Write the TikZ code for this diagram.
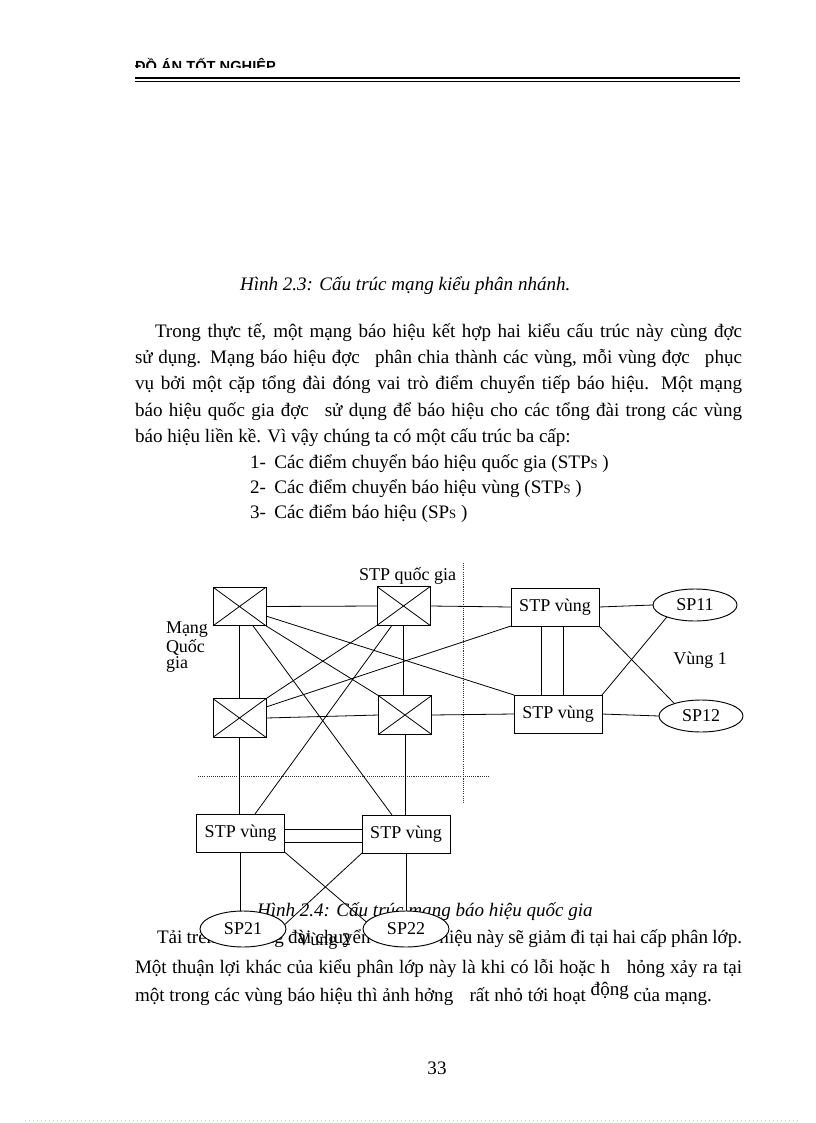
\documentclass[tikz,border=0pt]{standalone}
\usepackage{fontspec}
\setmainfont{Liberation Serif}
\newfontfamily\arialfont{Liberation Sans}
\usetikzlibrary{calc,shapes.geometric}
\newcommand\smallS{{\fontsize{9.5pt}{9.5pt}\selectfont S}}
\begin{document}
\begin{tikzpicture}[x=0.75pt,y=-0.75pt,
  every node/.style={inner sep=0pt,outer sep=0pt},
  body/.style={anchor=base west,font=\fontsize{14.3pt}{16pt}\selectfont},
  capt/.style={anchor=base west,font=\fontsize{14.3pt}{16pt}\selectfont\itshape},
  lab/.style={font=\fontsize{13.5pt}{12.4pt}\selectfont},
  wire/.style={line width=0.6pt},
  dotline/.style={line width=0.7pt,dash pattern=on 0.8pt off 0.8pt,black!80},
  xbox/.style={draw,line width=0.7pt,fill=white,minimum width=39.75pt,minimum height=29pt,
    path picture={\draw[line width=0.6pt] (path picture bounding box.north west)--(path picture bounding box.south east)
      (path picture bounding box.north east)--(path picture bounding box.south west);}},
  rbox/.style={draw,line width=0.7pt,fill=white,minimum width=66pt,minimum height=28.5pt,font=\fontsize{13.5pt}{16pt}\selectfont},
  ell/.style={draw,ellipse,line width=0.7pt,fill=white,minimum width=63pt,minimum height=24pt,font=\fontsize{13.5pt}{16pt}\selectfont},
  ellb/.style={ell,minimum width=64.5pt,minimum height=27pt}
]
\useasboundingbox (0,0) rectangle (816,1123);

% header
\begin{scope}
\clip (100,40) rectangle (800,67.5);
\node[anchor=base west,font=\arialfont\bfseries\fontsize{11pt}{13pt}\selectfont] (hdr) at (135,71.5) {ĐỒ ÁN TỐT NGHIỆP};
\end{scope}
\draw[line width=2pt] (135,78) -- (740,78);
\draw[line width=0.75pt] (135,81.5) -- (740,81.5);

% caption 2.3
\node[capt] (cap3) at (240,290) {Hình 2.3: Cấu trúc mạng kiểu phân nhánh.};

% paragraph
\node[body] (p1) at (155,337) {\makebox[440.25pt][s]{Trong thực tế, một mạng báo hiệu kết hợp hai kiểu cấu trúc này cùng đợc}};
\node[body] (p2) at (135,363) {\makebox[455.25pt][s]{sử dụng. Mạng báo hiệu đợc\hspace{0.5em} phân chia thành các vùng, mỗi vùng đợc\hspace{0.5em} phục}};
\node[body] (p3) at (135,389) {\makebox[455.25pt][s]{vụ bởi một cặp tổng đài đóng vai trò điểm chuyển tiếp báo hiệu. Một mạng}};
\node[body] (p4) at (135,416) {\makebox[455.25pt][s]{báo hiệu quốc gia đợc\hspace{0.5em} sử dụng để báo hiệu cho các tổng đài trong các vùng}};
\node[body] (p5) at (135,442) {báo hiệu liền kề. Vì vậy chúng ta có một cấu trúc ba cấp:};
\node[body] (l1) at (250,468) {1-\hspace{0.45em}Các điểm chuyển báo hiệu quốc gia (STP\smallS\ )};
\node[body] (l2) at (250,493) {2-\hspace{0.45em}Các điểm chuyển báo hiệu vùng (STP\smallS\ )};
\node[body] (l3) at (250,518) {3-\hspace{0.45em}Các điểm báo hiệu (SP\smallS\ )};

% caption 2.4 and bottom paragraph
\node[capt] (cap4) at (257,916) {Hình 2.4: Cấu trúc mạng báo hiệu quốc gia};
\node[body] (q1) at (157,943) {\makebox[438.75pt][s]{Tải trên các tổng đài chuyển tiếp báo hiệu này sẽ giảm đi tại hai cấp phân lớp.}};
\node[body] (q2) at (135,973) {\makebox[455.25pt][s]{Một thuận lợi khác của kiểu phân lớp này là khi có lỗi hoặc h\hspace{0.6em} hỏng xảy ra tại}};
\node[body] (q3) at (135,1001) {một trong các vùng báo hiệu thì ảnh hởng\hspace{0.6em} rất nhỏ tới hoạt \raisebox{3.8pt}{động} của mạng.};

% page number
\node[body,anchor=base] (pg) at (437,1074) {33};
\draw[green!45,line width=0.6pt,dash pattern=on 1pt off 2pt] (25,1120.5) -- (800,1120.5);

% ---------- diagram ----------
\coordinate (dv1) at (463,563);
\coordinate (dv2) at (463,803);
\coordinate (dh1) at (198,776);
\coordinate (dh2) at (490,776);
\draw[dotline] (dv1) -- (dv2);
\draw[dotline] (dh1) -- (dh2);

\node[xbox] (A) at (239.5,606.5) {};
\node[xbox] (B) at (403.5,606) {};
\node[xbox] (C) at (239.5,718) {};
\node[xbox] (D) at (405,715) {};
\node[rbox] (R1) at (555,607) {STP vùng};
\node[rbox] (R2) at (558,714) {STP vùng};
\node[rbox] (L1) at (240.5,833) {STP vùng};
\node[rbox] (L2) at (406,834) {STP vùng};
\node[ell] (SP11) at (695,605) {SP11};
\node[ell] (SP12) at (701,716) {SP12};
\node[ellb] (SP21) at (243,929) {SP21};
\node[ellb] (SP22) at (406,929) {SP22};

\begin{scope}[wire]
\draw (A.east) -- (B.west);
\draw (B.east) -- (R1.west);
\draw (A.south) -- (C.north);
\draw (C.south) -- (C.south |- L1.north);
\draw (B.south) -- (B.south |- D.north);
\draw (D.south) -- (D.south |- L2.north);
\draw (C.east) -- (D.west);
\draw (D.east) -- (R2.west);
\draw ($(A.east)+(0,9.5)$) -- (R2.north west);
\draw ($(C.east)+(0,-11)$) -- (R1.south west);
\draw (A.south east) -- (D.north west);
\draw ($(A.south)+(13.5,0)$) -- ($(L2.north)+(-14,0)$);
\draw ($(B.south)+(-11.5,0)$) -- ($(L1.north)+(14.5,0)$);
\draw (B.south west) -- (C.north east);
\coordinate (va) at ($(R1.south)+(-14,0)$);
\coordinate (vb) at ($(R1.south)+(8,0)$);
\draw (va) -- (va |- R2.north);
\draw (vb) -- (vb |- R2.north);
\draw (R1.east) -- (SP11.west);
\draw (R2.east) -- (SP12.west);
\draw (R1.south east) -- (SP12.155);
\draw (R2.north east) -- (SP11.203);
\coordinate (ha) at ($(L1.east)+(0,-4)$);
\coordinate (hb) at ($(L1.east)+(0,9)$);
\draw (ha) -- (ha -| L2.west);
\draw (hb) -- (hb -| L2.west);
\draw (L1.south) -- (L1.south |- SP21.north);
\draw (L2.south) -- (L2.south |- SP22.north);
\draw (L1.south east) -- (SP22.170);
\draw (L2.south west) -- (SP21.6);
\end{scope}

\node[lab,anchor=base west] (stpqg) at (359,580) {STP quốc gia};
\node[lab] (vung1) at (700,660) {Vùng 1};
\node[lab] (vung2) at (324,941) {Vùng 2};
\node[lab,align=left,anchor=north west] (mqg) at (166,622) {Mạng\\Quốc\\gia};
\end{tikzpicture}
\end{document}
